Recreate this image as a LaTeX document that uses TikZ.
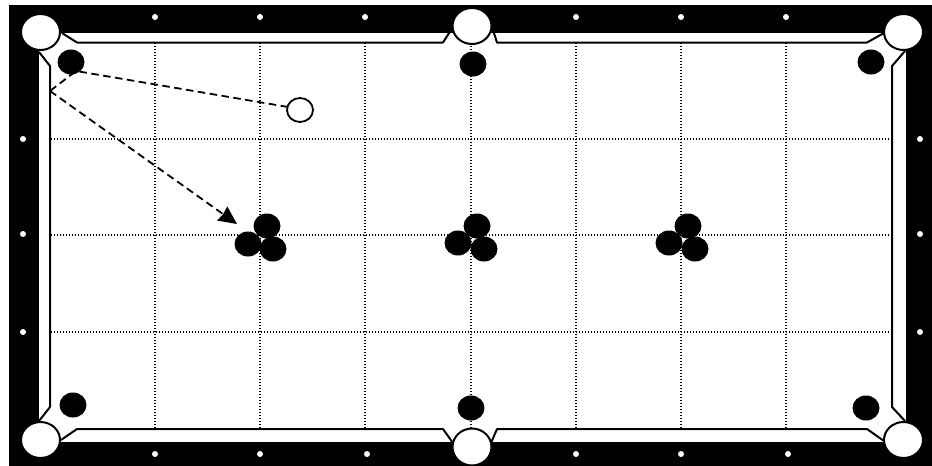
\documentclass[tikz,border=0pt]{standalone}
\usepackage{tikz}
\usetikzlibrary{arrows.meta}

\begin{document}
\begin{tikzpicture}[x=1pt,y=-1pt,line join=bevel,
    grid/.style={line width=1.25pt,dash pattern=on 1.25pt off 1.75pt},
    cushion/.style={line width=2pt},
    shot/.style={line width=1.8pt,dash pattern=on 7.5pt off 4.5pt},
    pocket/.style={fill=white,draw=black,line width=2pt},
    ball/.style={fill=black},
    cue/.style={fill=white,draw=black,line width=1.8pt},
    diamond/.style={fill=white}]
    \useasboundingbox (0,0) rectangle (932,466);
    \coordinate (rail) at (50,91);
    \coordinate (bank) at (76,71);
    \coordinate (cueball) at (300,110);
    \coordinate (rack) at (237,224);

    \fill[black] (9,5) rectangle (932,466);
    \fill[white] (39,33) rectangle (906,442);

%   table surface
    \draw[grid] (155,43) -- (155,428);
    \draw[grid] (260,43) -- (260,428);
    \draw[grid] (365,43) -- (365,428);
    \draw[grid] (471,43) -- (471,428);
    \draw[grid] (576,43) -- (576,428);
    \draw[grid] (681,43) -- (681,428);
    \draw[grid] (786,43) -- (786,428);
    \draw[grid] (51,139) -- (891,139);
    \draw[grid] (51,235) -- (891,235);
    \draw[grid] (51,332) -- (891,332);

%   cushions
    \draw[cushion] (62,33) -- (77,42.5) -- (443,42.5) -- (451,30);
    \draw[cushion] (493,30) -- (497,42.5) -- (867,42.5) -- (884,33);
    \draw[cushion] (905,51) -- (892,66) -- (892,407) -- (905,421);
    \draw[cushion] (884,441) -- (867,429) -- (497,429) -- (491,443);
    \draw[cushion] (453,443) -- (443,429) -- (77,429) -- (61,440);
    \draw[cushion] (39,421) -- (50,407) -- (50,66) -- (39,52);

%   pockets
    \draw[pocket] (40.5,32) ellipse (19.5 and 18);
    \draw[pocket] (472,26) ellipse (19.5 and 18);
    \draw[pocket] (903.5,32) ellipse (19.5 and 18);
    \draw[pocket] (40.5,440) ellipse (19.5 and 18);
    \draw[pocket] (472,447) ellipse (19.5 and 18.5);
    \draw[pocket] (903.5,440) ellipse (19.5 and 18);

%   diamonds
    \fill[diamond] (155,17) circle (3);
    \fill[diamond] (260,17) circle (3);
    \fill[diamond] (365,17) circle (3);
    \fill[diamond] (576,17) circle (3);
    \fill[diamond] (681,17) circle (3);
    \fill[diamond] (786,17) circle (3);
    \fill[diamond] (155,454) circle (3);
    \fill[diamond] (260,454) circle (3);
    \fill[diamond] (367,454) circle (3);
    \fill[diamond] (576,454) circle (3);
    \fill[diamond] (681,454) circle (3);
    \fill[diamond] (788,454) circle (3);
    \fill[diamond] (23,139) circle (3);
    \fill[diamond] (23,234) circle (3);
    \fill[diamond] (23,332) circle (3);
    \fill[diamond] (920,139) circle (3);
    \fill[diamond] (920,234) circle (3);
    \fill[diamond] (920,332) circle (3);

%   balls
    \fill[ball] (71,62) ellipse (13.5 and 12.5);
    \fill[ball] (473,64) ellipse (13.5 and 12.5);
    \fill[ball] (871,62) ellipse (13.5 and 12.5);
    \fill[ball] (73,405) ellipse (13.5 and 12.5);
    \fill[ball] (471,408) ellipse (13.5 and 12.5);
    \fill[ball] (866,408) ellipse (13.5 and 12.5);
    \fill[ball] (267,226) ellipse (13.5 and 12.5);
    \fill[ball] (248,244) ellipse (13.5 and 12.5);
    \fill[ball] (273,249) ellipse (13.5 and 12.5);
    \fill[ball] (477,226) ellipse (13.5 and 12.5);
    \fill[ball] (458,243) ellipse (13.5 and 12.5);
    \fill[ball] (484,249) ellipse (13.5 and 12.5);
    \fill[ball] (688,226) ellipse (13.5 and 12.5);
    \fill[ball] (669,243) ellipse (13.5 and 12.5);
    \fill[ball] (695,249) ellipse (13.5 and 12.5);

%   shot
    \draw[shot] (cueball) ++(-12,-3) -- (bank) -- (rail);
    \draw[shot,-{Stealth[length=18pt,width=17pt,inset=1pt]}] (rail) -- (rack);
    \draw[cue] (cueball) ellipse (13 and 12);
\end{tikzpicture}
\end{document}
